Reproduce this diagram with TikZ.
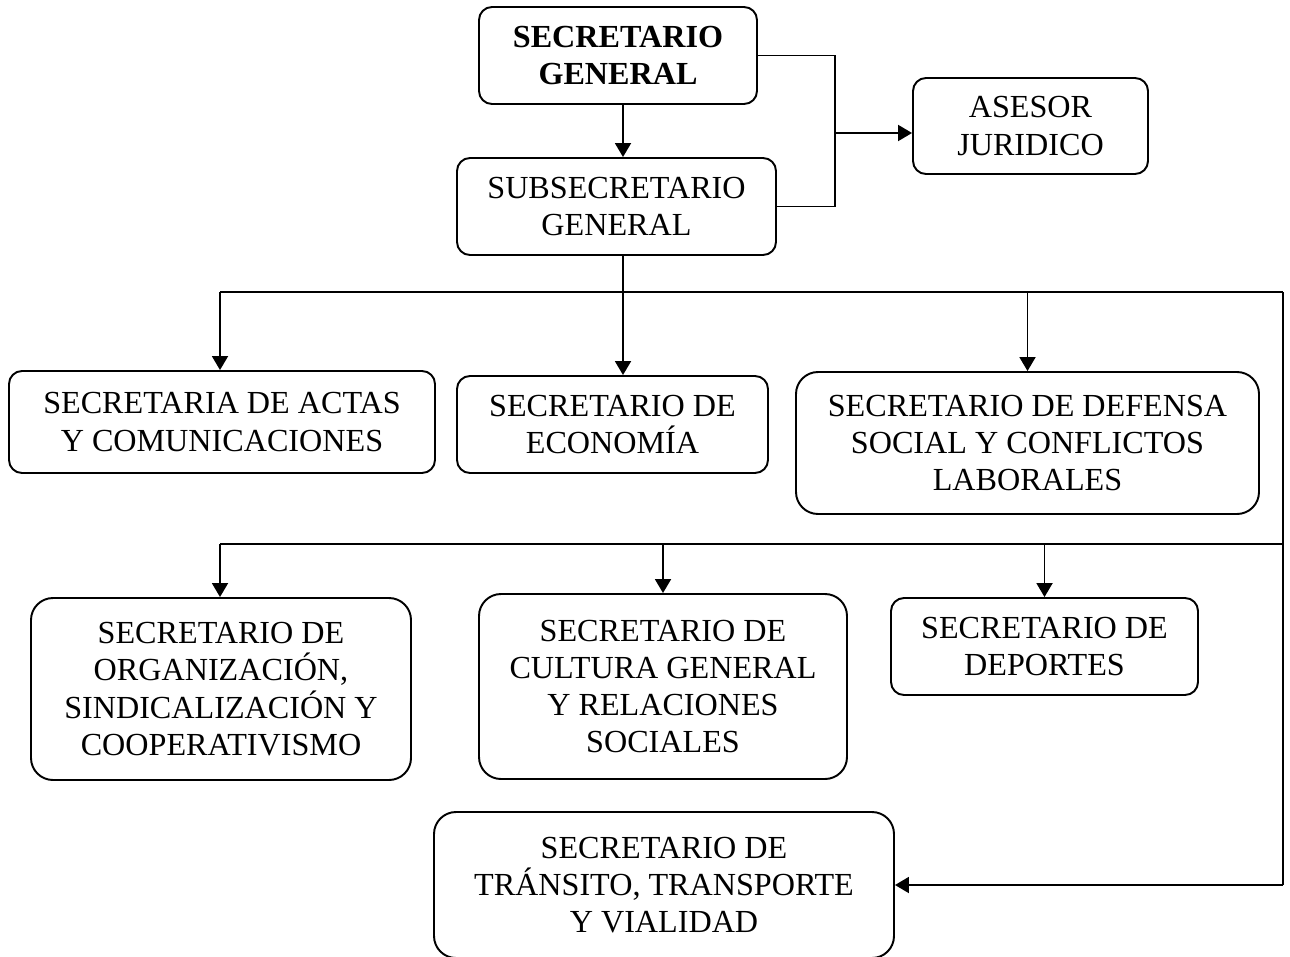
\documentclass[tikz,border=0pt]{standalone}
\usepackage{fontspec}
\setmainfont{Liberation Serif}
\usetikzlibrary{arrows.meta}
\tikzset{
  box/.style={draw, line width=1.1pt, rounded corners=0.26cm, align=center, inner sep=0pt,
    font=\fontsize{18.3pt}{21.2pt}\selectfont},
  big/.style={rounded corners=0.44cm},
  sz/.style 2 args={minimum width=#1*0.02cm, minimum height=#2*0.02cm},
  conn/.style={line width=1.1pt},
  arr/.style={line width=1.1pt, -{Triangle[length=0.28cm, width=0.32cm]}}
}
\begin{document}
\begin{tikzpicture}[x=0.02cm, y=-0.02cm]
\useasboundingbox (0,0) rectangle (1290,956);
% boxes
\node[box, sz={278}{97}, font=\fontsize{18.3pt}{21.2pt}\selectfont\bfseries] (SG) at (618,55.5) {SECRETARIO\\GENERAL};
\node[box, sz={319}{97}] (SUB) at (616.5,206.5) {SUBSECRETARIO\\GENERAL};
\node[box, sz={235}{96}] (ASE) at (1030.5,126) {ASESOR\\JURIDICO};
\node[box, sz={426}{102}] (ACT) at (222,422) {SECRETARIA DE ACTAS\\Y COMUNICACIONES};
\node[box, sz={311}{97}] (ECO) at (612.5,424.5) {SECRETARIO DE\\ECONOMÍA};
\node[box, big, sz={463}{142}] (DEF) at (1027.5,443) {SECRETARIO DE DEFENSA\\SOCIAL Y CONFLICTOS\\LABORALES};
\node[box, big, sz={380}{182}] (ORG) at (221,689) {SECRETARIO DE\\ORGANIZACIÓN,\\SINDICALIZACIÓN Y\\COOPERATIVISMO};
\node[box, big, sz={368}{185}] (CUL) at (663,686.5) {SECRETARIO DE\\CULTURA GENERAL\\Y RELACIONES\\SOCIALES};
\node[box, sz={307}{97}] (DEP) at (1044.5,646.5) {SECRETARIO DE\\DEPORTES};
\node[box, big, sz={460}{146}] (TRA) at (664,885) {SECRETARIO DE\\TRÁNSITO, TRANSPORTE\\Y VIALIDAD};
% helper coordinates
\coordinate (xc) at (623,0);
\coordinate (bx) at (835,0);
\coordinate (bm) at (835,133);
\coordinate (h1l) at (220,292);
\coordinate (h1r) at (1283,292);
\coordinate (h2l) at (220,544);
\coordinate (h2r) at (1283,544);
% connectors
\draw[arr] (SG.south -| xc) -- (SUB.north -| xc);
\draw[conn] (SG.east) -- (SG.east -| bx) -- (SUB.east -| bx) -- (SUB.east);
\draw[arr] (bm) -- (ASE.west |- bm);
\draw[conn] (SUB.south -| xc) -- (h1l -| xc);
\draw[conn] (h1l) -- (h1r);
\draw[arr] (h1l) -- (h1l |- ACT.north);
\draw[arr] (h1l -| xc) -- (ECO.north -| xc);
\draw[arr] (DEF.north |- h1l) -- (DEF.north);
\draw[conn] (h1r) -- (TRA.east -| h1r);
\draw[arr] (TRA.east -| h1r) -- (TRA.east);
\draw[conn] (h2l) -- (h2r);
\draw[arr] (h2l) -- (h2l |- ORG.north);
\draw[arr] (CUL.north |- h2l) -- (CUL.north);
\draw[arr] (DEP.north |- h2l) -- (DEP.north);
\end{tikzpicture}
\end{document}
